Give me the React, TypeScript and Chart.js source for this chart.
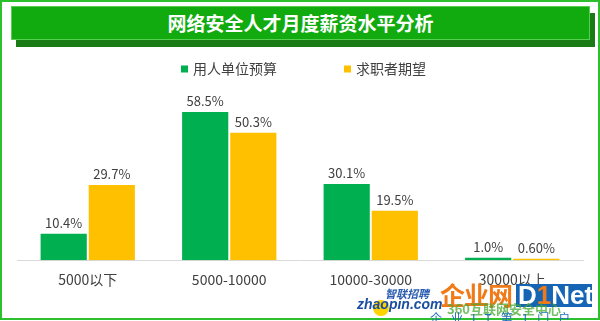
import React, { useEffect, useRef } from "react";
import { Chart, registerables } from "chart.js";

Chart.register(...registerables);

const title = "网络安全人才月度薪资水平分析";
const categories = ["5000以下", "5000-10000", "10000-30000", "30000以上"];
const seriesNames = ["用人单位预算", "求职者期望"];
const budgetValues = [10.4, 58.5, 30.1, 1.0];
const expectValues = [29.7, 50.3, 19.5, 0.6];
const budgetLabels = ["10.4%", "58.5%", "30.1%", "1.0%"];
const expectLabels = ["29.7%", "50.3%", "19.5%", "0.60%"];
const seriesColors = ["#00b050", "#ffc000"];

const FONT = '"Microsoft YaHei", "Noto Sans CJK SC", sans-serif';

const valueLabelPlugin = {
  id: "valueLabels",
  afterDatasetsDraw(chart: any) {
    const ctx = chart.ctx;
    ctx.save();
    ctx.font = `13px ${FONT}`;
    ctx.fillStyle = "#404040";
    ctx.textAlign = "center";
    ctx.textBaseline = "middle";
    chart.data.datasets.forEach((ds: any, i: number) => {
      const meta = chart.getDatasetMeta(i);
      meta.data.forEach((el: any, j: number) => {
        ctx.fillText(ds.valueLabels[j], el.x, el.y - 11);
      });
    });
    ctx.restore();
  },
};

const legendPlugin = {
  id: "customLegend",
  afterDraw(chart: any) {
    const ctx = chart.ctx;
    const xs = [181, 344];
    const yc = 69;
    ctx.save();
    ctx.font = `14px ${FONT}`;
    ctx.textBaseline = "middle";
    ctx.textAlign = "left";
    chart.data.datasets.forEach((ds: any, i: number) => {
      ctx.fillStyle = ds.backgroundColor;
      ctx.fillRect(xs[i], yc - 3.5, 7, 7);
      ctx.fillStyle = "#404040";
      ctx.fillText(ds.label, xs[i] + 12, yc);
    });
    ctx.restore();
  },
};

export default function App() {
  const canvasRef = useRef<HTMLCanvasElement | null>(null);

  useEffect(() => {
    if (!canvasRef.current) return;
    const chart = new Chart(canvasRef.current, {
      type: "bar",
      data: {
        labels: categories,
        datasets: [
          {
            label: seriesNames[0],
            data: budgetValues,
            backgroundColor: seriesColors[0],
            valueLabels: budgetLabels,
            categoryPercentage: 0.68,
            barPercentage: 0.96,
          } as any,
          {
            label: seriesNames[1],
            data: expectValues,
            backgroundColor: seriesColors[1],
            valueLabels: expectLabels,
            categoryPercentage: 0.68,
            barPercentage: 0.96,
          } as any,
        ],
      },
      options: {
        animation: false,
        responsive: false,
        maintainAspectRatio: false,
        layout: { padding: { left: 17, right: 17, top: 83, bottom: 22 } },
        plugins: {
          legend: { display: false },
          tooltip: { enabled: false },
          title: { display: false },
        },
        scales: {
          x: {
            grid: { display: false, drawTicks: false },
            border: { display: true, color: "#d9d9d9", width: 1 },
            ticks: { color: "#404040", font: { size: 14, family: FONT }, padding: 11 },
          },
          y: { display: false, min: 0, max: 70 },
        },
      },
      plugins: [valueLabelPlugin, legendPlugin],
    });
    return () => chart.destroy();
  }, []);

  return (
    <div
      style={{
        position: "absolute",
        left: 0,
        top: 0,
        width: 600,
        height: 321,
        background: "#ffffff",
        overflow: "hidden",
        fontFamily: FONT,
      }}
    >
      <div
        style={{
          position: "absolute",
          left: 0,
          top: 0,
          width: 600,
          height: 320,
          border: "2px solid #2cc02c",
          boxSizing: "border-box",
        }}
      />
      <div
        style={{
          position: "absolute",
          left: 16,
          top: 13,
          width: 579,
          height: 34,
          background: "#1b7c17",
        }}
      />
      <div
        style={{
          position: "absolute",
          left: 11,
          top: 6,
          width: 579,
          height: 34,
          background: "#11ab0f",
          border: "1px solid #58cf50",
          boxSizing: "border-box",
          color: "#ffffff",
          fontWeight: "bold",
          fontSize: 19,
          lineHeight: "32px",
          textAlign: "center",
        }}
      >
        {title}
      </div>
      <canvas
        ref={canvasRef}
        width={600}
        height={321}
        style={{ position: "absolute", left: 0, top: 0, width: 600, height: 321 }}
      />
      {/* watermarks */}
      <div
        style={{
          position: "absolute",
          left: 373,
          top: 300,
          width: 16,
          height: 16,
          borderRadius: "50%",
          background: "#ffd200",
        }}
      />
      <div
        style={{
          position: "absolute",
          left: 385,
          top: 287,
          fontSize: 11,
          fontWeight: "bold",
          fontStyle: "italic",
          color: "#2a5bb0",
          lineHeight: "12px",
        }}
      >
        智联招聘
      </div>
      <div
        style={{
          position: "absolute",
          left: 357,
          top: 296,
          fontSize: 14,
          fontWeight: "bold",
          fontStyle: "italic",
          color: "#1a4fa0",
          fontFamily: '"Liberation Sans", Arial, sans-serif',
          lineHeight: "16px",
        }}
      >
        zhaopin.com
      </div>
      <div
        style={{
          position: "absolute",
          left: 516,
          top: 284,
          width: 76,
          height: 23,
          background: "#1665b5",
        }}
      />
      <div
        style={{
          position: "absolute",
          left: 440,
          top: 279,
          fontSize: 25,
          fontWeight: "bold",
          color: "#f07a18",
          lineHeight: "30px",
          letterSpacing: -1,
        }}
      >
        企业网
      </div>
      <div
        style={{
          position: "absolute",
          left: 518,
          top: 281,
          fontSize: 26,
          fontWeight: "bold",
          color: "#ffffff",
          fontFamily: '"Liberation Sans", Arial, sans-serif',
          lineHeight: "28px",
        }}
      >
        D<span style={{ color: "#f07a18" }}>1</span>Net
      </div>
      <div
        style={{
          position: "absolute",
          left: 447,
          top: 302,
          fontSize: 13,
          fontWeight: "bold",
          color: "rgba(70,170,50,0.75)",
          lineHeight: "14px",
        }}
      >
        360互联网安全中心
      </div>
      <div
        style={{
          position: "absolute",
          left: 430,
          top: 311,
          fontSize: 12,
          color: "#2070c0",
          lineHeight: "14px",
          letterSpacing: 9,
        }}
      >
        企业IT第1门户
      </div>
    </div>
  );
}
